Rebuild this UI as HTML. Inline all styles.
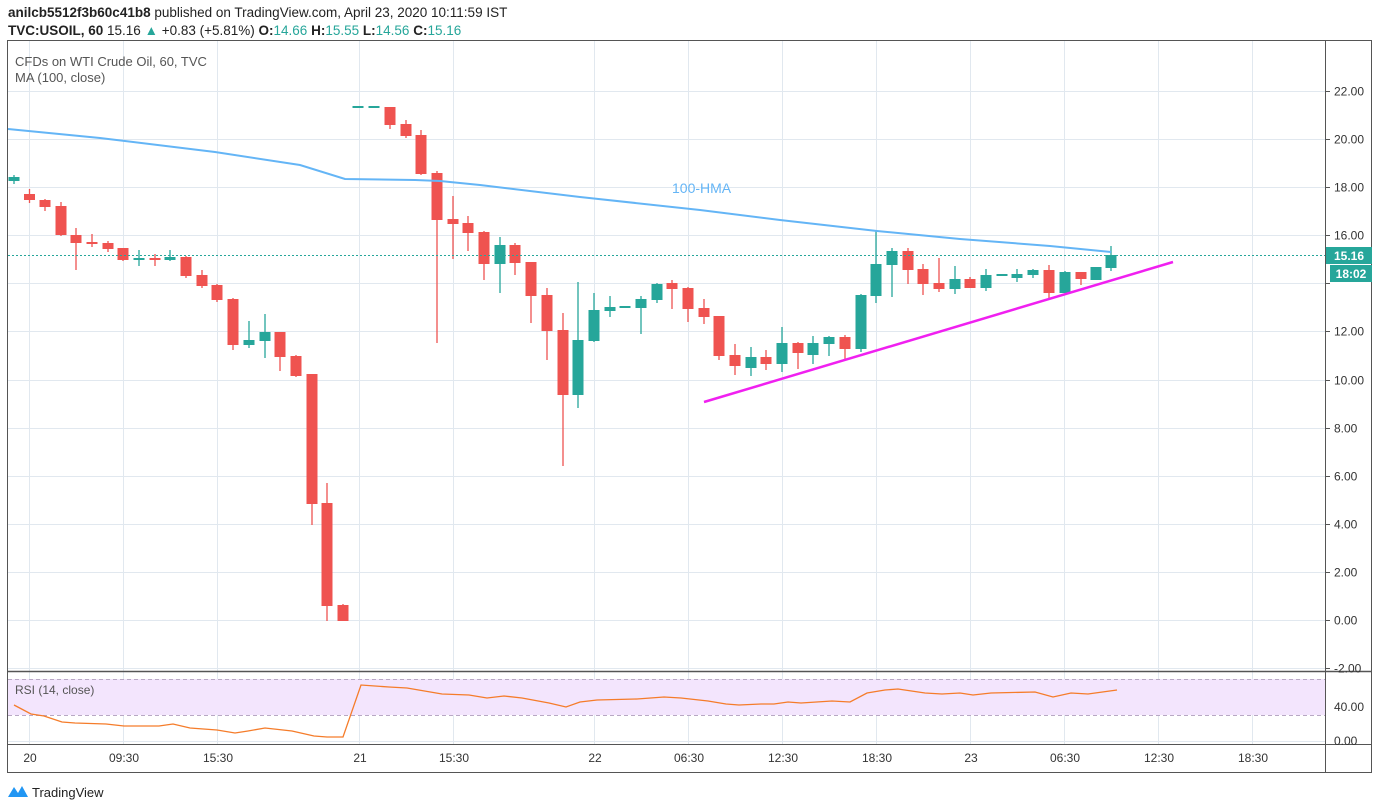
<!DOCTYPE html>
<html><head><meta charset="utf-8"><style>
body{margin:0;background:#fff;width:1380px;height:810px;overflow:hidden;font-family:"Liberation Sans",sans-serif}
svg{position:absolute;left:0;top:0}
</style></head><body>
<svg width="1380" height="810" xmlns="http://www.w3.org/2000/svg" font-family="Liberation Sans, sans-serif">
<text x="8" y="17" font-size="13.5" fill="#222"><tspan font-weight="bold">anilcb5512f3b60c41b8</tspan> published on TradingView.com, April 23, 2020 10:11:59 IST</text>
<text x="8" y="35" font-size="13.5" fill="#222"><tspan font-weight="bold">TVC:USOIL, 60</tspan> 15.16 <tspan fill="#26a69a">▲</tspan> +0.83 (+5.81%) <tspan font-weight="bold">O:</tspan><tspan fill="#26a69a">14.66</tspan> <tspan font-weight="bold">H:</tspan><tspan fill="#26a69a">15.55</tspan> <tspan font-weight="bold">L:</tspan><tspan fill="#26a69a">14.56</tspan> <tspan font-weight="bold">C:</tspan><tspan fill="#26a69a">15.16</tspan></text>
<g id="grid" stroke="#e1e8ef" stroke-width="1"></g>
<rect x="8" y="679" width="1317" height="36" fill="#f3e5fd"/>
<line x1="8" y1="679.5" x2="1325" y2="679.5" stroke="#b8a8c4" stroke-dasharray="4,3"/>
<line x1="8" y1="715.5" x2="1325" y2="715.5" stroke="#b8a8c4" stroke-dasharray="4,3"/>
<g id="candles"></g>
<polyline fill="none" stroke="#64b5f6" stroke-width="2" points="8,129 100,138 215,152 300,165 345,179 415,180 440,181 480,185 580,197 700,210 780,220 877,231 960,239 1050,246 1111,252"/>
<text x="672" y="193" font-size="14" fill="#64b5f6">100-HMA</text>
<line x1="704" y1="402" x2="1173" y2="262" stroke="#f020f0" stroke-width="2.5"/>
<line x1="8" y1="255.5" x2="1325" y2="255.5" stroke="#26a69a" stroke-dasharray="2,2"/>
<polyline fill="none" stroke="#f57c2a" stroke-width="1.3" points="14,705 31,714 44,716 62,722 75,723 106,724 124,726 159,726 173,724 190,728 217,730 235,733 248,731 265,728 292,731 314,736 327,737 343,737 361,685 389,687 407,688 442,694 469,695 487,698 504,696 522,698 549,703 566,707 580,702 597,700 637,699 664,697 681,698 708,701 726,704 739,705 761,704 774,704 788,702 801,703 832,701 850,702 867,693 885,690 898,689 925,693 942,694 960,693 973,695 991,693 1035,692 1053,697 1071,693 1088,694 1117,690"/>
<text x="15" y="66" font-size="13" fill="#555">CFDs on WTI Crude Oil, 60, TVC</text>
<text x="15" y="82" font-size="13" fill="#555">MA (100, close)</text>
<text x="15" y="694" font-size="12" fill="#555">RSI (14, close)</text>
<rect x="7.5" y="40.5" width="1364" height="732" fill="none" stroke="#555"/>
<line x1="1325.5" y1="40" x2="1325.5" y2="772" stroke="#555"/>
<line x1="8" y1="671.5" x2="1372" y2="671.5" stroke="#555" stroke-width="1.5"/>
<line x1="8" y1="744.5" x2="1372" y2="744.5" stroke="#555"/>
<g id="plabels" font-size="12" fill="#333"></g>
<rect x="1326" y="247" width="46" height="17" fill="#26a69a"/>
<text x="1349" y="260" font-size="12" font-weight="bold" fill="#fff" text-anchor="middle">15.16</text>
<rect x="1330" y="265" width="42" height="17" fill="#26a69a"/>
<text x="1351" y="278" font-size="12" font-weight="bold" fill="#fff" text-anchor="middle">18:02</text>
<g id="tlabels" font-size="12" fill="#333" text-anchor="middle"></g>
<g transform="translate(8,784)"><path d="M0,13 L6,3 L10,9 L14,2 L20,13 Z" fill="#2196f3"/></g>
<text x="32" y="797" font-size="13" fill="#222">TradingView</text>
</svg>
<script>
var NS="http://www.w3.org/2000/svg";
function el(p,t,a,txt){var e=document.createElementNS(NS,t);for(var k in a)e.setAttribute(k,a[k]);if(txt!=null)e.textContent=txt;document.getElementById(p).appendChild(e);}
var vx=[29,123,217,359,453,594,688,782,876,970,1064,1158,1252];
vx.forEach(function(x){el("grid","line",{x1:x+.5,y1:41,x2:x+.5,y2:744});});
for(var p=-2;p<=22;p+=2){var y=Math.round(620-24.05*p)+.5;el("grid","line",{x1:8,y1:y,x2:1325,y2:y});
 el("plabels","line",{x1:1325,y1:y,x2:1330,y2:y,stroke:"#555"});
 if(p!=14)el("plabels","text",{x:1334,y:y+4},p.toFixed(2));}
el("grid","line",{x1:8,y1:707.5,x2:1325,y2:707.5});
el("grid","line",{x1:8,y1:741.5,x2:1325,y2:741.5});
el("plabels","text",{x:1334,y:711},"40.00");el("plabels","text",{x:1334,y:745},"0.00");
var tl=["20","09:30","15:30","21","15:30","22","06:30","12:30","18:30","23","06:30","12:30","18:30"];
tl.forEach(function(t,i){el("tlabels","text",{x:vx[i]+1,y:762},t);});
var R="#ef5350",G="#26a69a";
var c=[[14,177,181,175,184,G],[29.5,194,200,189,203,R],[45,200,207,199,211,R],[61,206,235,202,236,R],[76,235,243,228,270,R],[92,242,244,234,247,R],[108,243,249,241,252,R],[123,248,260,248,261,R],[139,258,260,250,266,G],[155,258,260,254,266,R],[170,257,260,250,261,G],[186,257,276,256,278,R],[202,275,286,270,288,R],[217,285,300,284,302,R],[233,299,345,298,350,R],[249,340,345,321,348,G],[265,332,341,314,358,G],[280,332,357,332,371,R],[296,356,376,355,377,R],[312,374,504,374,525,R],[327,503,606,483,621,R],[343,605,621,604,621,R],
[358,106,108,106,108,G],[374,106,108,106,108,G],[390,107,125,107,129,R],[406,124,136,120,138,R],[421,135,174,130,175,R],[437,173,220,171,343,R],[453,219,224,196,259,R],[468,223,233,216,251,R],[484,232,264,231,280,R],[500,245,264,237,293,G],[515,245,263,243,275,R],[531,262,296,262,323,R],[547,295,331,288,360,R],[563,330,395,313,466,R],[578,340,395,282,408,G],[594,310,341,293,342,G],[610,307,311,296,317,G],[625,306,308,306,308,G],[641,299,308,296,334,G],[657,284,300,283,303,G],[672,283,289,280,309,R],[688,288,309,287,322,R],
[704,308,317,299,324,R],[719,316,356,316,360,R],[735,355,366,344,375,R],[751,357,368,347,376,G],[766,357,364,350,370,R],[782,343,364,327,372,G],[798,343,353,342,369,R],[813,343,355,336,364,G],[829,337,344,336,356,G],[845,337,349,335,359,R],[861,295,349,294,352,G],[876,264,296,230,303,G],[892,251,265,248,297,G],[908,251,270,248,284,R],[923,269,284,264,295,R],[939,283,289,258,292,R],[955,279,289,266,294,G],[970,279,288,277,288,R],[986,275,288,269,291,G],[1002,274,276,274,276,G],[1017,274,278,269,282,G],[1033,270,275,269,278,G],[1049,270,293,265,299,R],[1065,272,293,271,293,G],[1081,272,279,272,285,R],[1096,267,280,267,280,G],[1111,255,268,246,271,G]];
c.forEach(function(d){el("candles","line",{x1:d[0],y1:d[3],x2:d[0],y2:d[4],stroke:d[5],"stroke-width":1.3});
el("candles","rect",{x:d[0]-5.5,y:d[1],width:11,height:Math.max(1.5,d[2]-d[1]),fill:d[5]});});
</script>
</body></html>
